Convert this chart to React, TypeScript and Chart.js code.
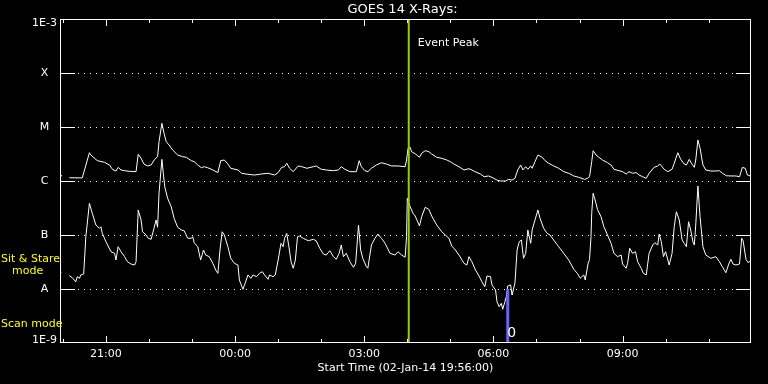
import React, { useEffect, useRef } from 'react';
import { Chart, registerables } from 'chart.js';

Chart.register(...registerables);

// Time in minutes after the start time (02-Jan-14 19:56:00)
const longTimes = [
  0, 3, 6, 13, 31, 41, 43, 52, 62, 69, 73, 78, 81, 85, 90, 97, 106, 109, 113, 117, 122, 127, 132, 136, 138, 142,
  145, 148, 152, 157, 164, 171, 176, 183, 187, 192, 197, 201, 206, 213, 220, 224, 229, 234, 238, 248, 253, 262,
  271, 281, 290, 299, 304, 309, 313, 316, 320, 325, 327, 332, 337, 344, 353, 357, 364, 371, 381, 388, 392, 397,
  404, 413, 417, 420, 425, 429, 434, 441, 448, 455, 462, 471, 481, 483, 485, 488, 490, 495, 501, 504, 509, 514,
  518, 525, 532, 539, 544, 549, 556, 563, 570, 574, 579, 586, 591, 597, 602, 609, 614, 621, 625, 630, 634, 638,
  642, 645, 649, 652, 656, 658, 662, 666, 672, 676, 681, 688, 695, 702, 709, 716, 723, 731, 735, 738, 741, 743,
  747, 751, 756, 763, 768, 772, 779, 784, 789, 793, 798, 803, 807, 812, 817, 821, 828, 833, 836, 842, 847, 853,
  856, 861, 865, 870, 873, 877, 880, 884, 886, 889, 892, 896, 900, 907, 914, 919, 923, 929, 935, 942, 947, 951,
  955, 958, 962,
];
// GOES 1-8 A flux, W/m^2
const longFlux = [
  1.25e-6, 1.25e-6, null, 1.15e-6, 1.14e-6, 3.34e-6, 3.03e-6, 2.38e-6, 2.22e-6, 1.98e-6, 1.65e-6, 1.53e-6, 1.79e-6,
  1.6e-6, 1.55e-6, 1.51e-6, 1.49e-6, 3.12e-6, 2.63e-6, 2.06e-6, 1.9e-6, 1.98e-6, 2.52e-6, 2.82e-6, 5.35e-6, 1.17e-5,
  7.64e-6, 5.35e-6, 4.64e-6, 3.75e-6, 3.03e-6, 2.82e-6, 2.75e-6, 2.38e-6, 2.28e-6, 1.98e-6, 1.76e-6, 1.84e-6, 1.76e-6,
  1.6e-6, 1.43e-6, 2.38e-6, 2.45e-6, 2.06e-6, 1.72e-6, 1.6e-6, 1.39e-6, 1.33e-6, 1.29e-6, 1.35e-6, 1.39e-6, 1.29e-6,
  1.43e-6, 1.79e-6, 1.84e-6, 2.13e-6, 1.72e-6, 1.49e-6, 1.6e-6, 1.9e-6, 1.84e-6, 1.72e-6, 1.84e-6, 1.9e-6, 1.65e-6,
  1.6e-6, 1.55e-6, 1.6e-6, 1.84e-6, 1.65e-6, 1.49e-6, 1.49e-6, 2.38e-6, 1.84e-6, 1.55e-6, 1.49e-6, 1.72e-6, 1.98e-6,
  2.18e-6, 2.06e-6, 1.9e-6, 1.9e-6, 1.84e-6, 2.45e-6, 4.03e-6, 4.21e-6, 3.49e-6, 3.2e-6, 2.75e-6, 3.26e-6, 3.64e-6,
  3.49e-6, 3.16e-6, 2.75e-6, 2.63e-6, 2.45e-6, 2.28e-6, 2.06e-6, 1.84e-6, 1.6e-6, 1.69e-6, 1.6e-6, 1.47e-6, 1.35e-6,
  1.2e-6, 1.24e-6, 1.17e-6, 1.04e-6, 1.0e-6, 1.0e-6, 1.07e-6, 1.04e-6, 1.12e-6, 1.6e-6, 1.98e-6, 1.6e-6, 1.84e-6,
  1.65e-6, 1.9e-6, 1.72e-6, 2.28e-6, 3.03e-6, 2.75e-6, 2.38e-6, 2.13e-6, 1.9e-6, 1.72e-6, 1.49e-6, 1.39e-6, 1.24e-6,
  1.17e-6, 1.07e-6, 1.12e-6, 1.2e-6, 2.28e-6, 3.64e-6, 3.03e-6, 2.75e-6, 2.45e-6, 2.18e-6, 1.98e-6, 1.65e-6, 1.55e-6,
  1.49e-6, 1.35e-6, 1.49e-6, 1.39e-6, 1.43e-6, 1.29e-6, 1.2e-6, 1.12e-6, 1.39e-6, 1.79e-6, 1.9e-6, 2.06e-6, 1.65e-6,
  1.49e-6, 1.65e-6, 2.13e-6, 3.34e-6, 2.52e-6, 2.06e-6, 1.98e-6, 2.52e-6, 2.13e-6, 1.79e-6, 2.45e-6, 5.74e-6, 4.03e-6,
  1.98e-6, 1.6e-6, 1.53e-6, 1.53e-6, 1.55e-6, 1.39e-6, 1.25e-6, 1.24e-6, 1.24e-6, 1.2e-6, 1.79e-6, 1.72e-6, 1.29e-6,
  1.24e-6,
];

const shortTimes = [
  0, 2, 6, 13, 17, 22, 24, 27, 29, 33, 36, 41, 45, 50, 55, 57, 59, 64, 71, 76, 78, 81, 85, 90, 94, 99, 104, 106, 109,
  113, 115, 120, 123, 127, 131, 134, 136, 138, 142, 144, 146, 150, 155, 159, 164, 169, 173, 178, 183, 185, 187, 192,
  196, 200, 203, 208, 213, 217, 220, 223, 226, 229, 234, 238, 243, 248, 250, 255, 258, 262, 266, 269, 274, 278, 282,
  285, 290, 292, 297, 300, 304, 308, 311, 313, 316, 319, 322, 325, 328, 331, 334, 339, 346, 353, 357, 362, 367, 371,
  376, 381, 385, 389, 392, 395, 399, 404, 409, 412, 416, 419, 422, 427, 429, 434, 439, 443, 448, 453, 460, 467, 471,
  476, 481, 483, 484, 488, 492, 495, 501, 504, 509, 514, 518, 525, 532, 537, 542, 546, 551, 556, 563, 567, 570, 574,
  579, 584, 588, 592, 595, 600, 602, 607, 609, 612, 615, 617, 620, 622, 624, 628, 630, 634, 637, 640, 643, 646, 649,
  652, 656, 658, 662, 666, 669, 674, 679, 683, 688, 695, 702, 709, 716, 721, 725, 730, 732, 736, 738, 740, 741, 743,
  747, 749, 754, 758, 763, 768, 772, 777, 782, 784, 789, 791, 794, 798, 802, 805, 810, 813, 817, 821, 826, 829, 833,
  835, 838, 841, 844, 849, 853, 856, 859, 863, 867, 870, 873, 876, 879, 882, 884, 886, 889, 892, 896, 900, 907, 914,
  919, 923, 928, 932, 935, 938, 942, 947, 950, 952, 956, 959, 962,
];
// GOES 0.5-4 A flux, W/m^2
const shortFlux = [
  2.04e-8, 2.04e-8, null, 1.76e-8, 1.62e-8, 1.36e-8, 1.69e-8, 1.58e-8, 1.82e-8, 1.9e-8, 9.3e-8, 3.86e-7, 2.52e-7,
  1.53e-7, 1.33e-7, 1.42e-7, 1.07e-7, 7.52e-8, 4.91e-8, 4.58e-8, 3.44e-8, 6.07e-8, 4.91e-8, 3.97e-8, 3.2e-8, 2.9e-8,
  2.78e-8, 3.2e-8, 2.9e-7, 1.9e-7, 1.15e-7, 1.0e-7, 8.69e-8, 8.32e-8, 1.33e-7, 1.9e-7, 1.39e-7, 5.92e-7, 2.52e-6,
  1.39e-6, 7.84e-7, 4.78e-7, 3.34e-7, 2.04e-7, 1.39e-7, 1.24e-7, 1.2e-7, 8.69e-8, 8.69e-8, 9.3e-8, 7.2e-8, 6.07e-8,
  3.44e-8, 5.28e-8, 4.26e-8, 3.97e-8, 2.99e-8, 2.25e-8, 1.95e-8, 5.28e-8, 1.15e-7, 1.0e-7, 6.07e-8, 3.7e-8, 2.99e-8,
  2.78e-8, 1.47e-8, 9.87e-9, 1.28e-8, 1.82e-8, 1.58e-8, 1.82e-8, 1.69e-8, 1.95e-8, 2.09e-8, 1.82e-8, 1.51e-8, 1.82e-8,
  1.69e-8, 1.82e-8, 3.44e-8, 7.02e-8, 6.07e-8, 8.69e-8, 1.07e-7, 6.07e-8, 3.2e-8, 2.42e-8, 3.44e-8, 9.3e-8, 9.58e-8,
  8.69e-8, 7.84e-8, 8.32e-8, 7.84e-8, 5.67e-8, 4.45e-8, 4.26e-8, 5.12e-8, 3.97e-8, 3.55e-8, 4.58e-8, 6.53e-8, 3.97e-8,
  4.58e-8, 3.2e-8, 2.52e-8, 2.99e-8, 1.53e-7, 5.28e-8, 3.7e-8, 2.59e-8, 2.42e-8, 6.53e-8, 8.69e-8, 1.04e-7, 8.69e-8,
  7.02e-8, 4.58e-8, 4.26e-8, 4.91e-8, 4.26e-8, 3.87e-8, 9.3e-8, 4.78e-7, 3.34e-7, 2.52e-7, 2.25e-7, 1.47e-7, 2.18e-7,
  3.26e-7, 2.99e-7, 2.25e-7, 1.53e-7, 1.15e-7, 1.0e-7, 8.69e-8, 6.25e-8, 5.28e-8, 4.26e-8, 2.99e-8, 2.78e-8, 3.97e-8,
  3.2e-8, 2.25e-8, 1.74e-8, 1.36e-8, 1.1e-8, 1.74e-8, 1.69e-8, 1.19e-8, 9.58e-9, 5.82e-9, 4.7e-9, 5.43e-9, 4.21e-9,
  5.82e-9, 7.2e-9, 1.14e-8, 1.19e-8, 7.74e-9, 1.28e-8, 5.28e-8, 7.52e-8, 8.07e-8, 3.7e-8, 4.58e-8, 1.24e-7, 7.02e-8,
  1.24e-7, 1.9e-7, 2.9e-7, 2.04e-7, 1.33e-7, 1.07e-7, 1.0e-7, 8.07e-8, 6.07e-8, 4.58e-8, 3.44e-8, 2.32e-8, 1.95e-8,
  1.58e-8, 1.82e-8, 1.47e-8, 2.99e-8, 3.5e-8, 9.3e-8, 2.52e-7, 5.92e-7, 3.86e-7, 2.99e-7, 2.18e-7, 1.42e-7, 1.0e-7,
  7.02e-8, 4.58e-8, 3.97e-8, 4.26e-8, 2.9e-8, 2.42e-8, 2.99e-8, 5.67e-8, 4.58e-8, 4.91e-8, 3.2e-8, 2.42e-8, 1.95e-8,
  1.82e-8, 4.58e-8, 6.53e-8, 7.2e-8, 6.53e-8, 1.04e-7, 7.52e-8, 3.97e-8, 4.91e-8, 2.78e-8, 4.58e-8, 1.42e-7, 2.7e-7,
  1.9e-7, 8.07e-8, 7.02e-8, 6.07e-8, 1.76e-7, 1.24e-7, 7.52e-8, 6.53e-8, 1.53e-7, 8.08e-7, 2.18e-7, 6.07e-8, 4.26e-8,
  3.7e-8, 3.97e-8, 3.2e-8, 2.59e-8, 2.0e-8, 2.9e-8, 3.55e-8, 2.9e-8, 2.78e-8, 2.9e-8, 8.69e-8, 7.84e-8, 3.55e-8,
  3.07e-8, 3.34e-8,
];

const xRangeMinutes = [0, 963];
const xTickMinutes = [4, 64, 124, 184, 244, 304, 364, 424, 484, 544, 604, 664, 724, 784, 844, 904];
const xMajorMinutes = [64, 244, 424, 604, 784];
const xMajorLabels = ['21:00', '00:00', '03:00', '06:00', '09:00'];

const yTickValues = [1e-9, 1e-8, 1e-7, 1e-6, 1e-5, 1e-4, 1e-3];
const yTickLabels = ['1E-9', 'A', 'B', 'C', 'M', 'X', '1E-3'];

const eventPeakMinute = 486;
const scanMarkMinute = 624;
const scanMarkFlux = [1e-8, 1e-9];

const FONT = '"DejaVu Sans", sans-serif';

const decorPlugin = {
  id: 'goesDecor',
  beforeDraw(chart: any) {
    const { ctx, width, height } = chart;
    ctx.save();
    ctx.fillStyle = '#000';
    ctx.fillRect(0, 0, width, height);
    ctx.restore();
  },
  beforeDatasetsDraw(chart: any) {
    const { ctx, chartArea } = chart;
    const y = chart.scales.y;
    const { left, right } = chartArea;
    ctx.save();
    ctx.fillStyle = '#ffffff';
    yTickValues.forEach((v, i) => {
      if (i === 0 || i === yTickValues.length - 1) return;
      const py = Math.round(y.getPixelForValue(v));
      for (let px = left + 18; px < right - 15; px += 6) {
        ctx.fillRect(px, py, 1, 1);
      }
    });
    ctx.restore();
  },
  afterDatasetsDraw(chart: any) {
    const { ctx, chartArea } = chart;
    const x = chart.scales.x;
    const y = chart.scales.y;
    const { left, right, top, bottom } = chartArea;
    ctx.save();
    ctx.strokeStyle = '#ffffff';
    ctx.fillStyle = '#ffffff';
    ctx.lineWidth = 1;
    // frame
    ctx.strokeRect(left + 0.5, top + 0.5, right - left - 1, bottom - top - 1);
    // x ticks top and bottom
    xTickMinutes.forEach((m) => {
      const px = Math.round(x.getPixelForValue(m)) + 0.5;
      const len = xMajorMinutes.includes(m) ? 7 : 4;
      ctx.beginPath();
      ctx.moveTo(px, bottom);
      ctx.lineTo(px, bottom - len);
      ctx.moveTo(px, top);
      ctx.lineTo(px, top + len);
      ctx.stroke();
    });
    // y ticks left and right + labels
    ctx.font = `11px ${FONT}`;
    ctx.textAlign = 'center';
    ctx.textBaseline = 'middle';
    yTickValues.forEach((v, i) => {
      const py = Math.round(y.getPixelForValue(v)) + 0.5;
      if (i !== 0 && i !== yTickValues.length - 1) {
        ctx.beginPath();
        ctx.moveTo(left, py);
        ctx.lineTo(left + 15, py);
        ctx.moveTo(right, py);
        ctx.lineTo(right - 15, py);
        ctx.stroke();
      }
      let ly = py;
      if (i === yTickValues.length - 1) ly = top + 4;
      if (i === 0) ly = bottom - 3;
      ctx.fillText(yTickLabels[i], 44.5, ly);
    });
    // title
    ctx.font = `13px ${FONT}`;
    ctx.fillText('GOES 14 X-Rays:', 402.5, 10);
    // event peak label
    const ex = x.getPixelForValue(eventPeakMinute);
    ctx.textAlign = 'left';
    ctx.font = `11px ${FONT}`;
    ctx.fillText('Event Peak', ex + 9, 43);
    // scan marker label
    const sx = x.getPixelForValue(scanMarkMinute);
    ctx.font = `14px ${FONT}`;
    ctx.textAlign = 'center';
    ctx.fillText('0', sx + 4, 333);
    // yellow side labels
    ctx.fillStyle = '#ffff00';
    ctx.font = `11px ${FONT}`;
    ctx.textAlign = 'left';
    ctx.fillText('Sit & Stare', 1, 259);
    ctx.fillText('mode', 12, 271);
    ctx.fillText('Scan mode', 1, 324);
    ctx.restore();
  },
};

export default function App() {
  const ref = useRef<HTMLCanvasElement | null>(null);

  useEffect(() => {
    document.body.style.margin = '0';
    document.body.style.background = '#000';
    const canvas = ref.current;
    if (!canvas) return;

    const longData = longTimes.map((t, i) => ({ x: t, y: longFlux[i] }));
    const shortData = shortTimes.map((t, i) => ({ x: t, y: shortFlux[i] }));

    const chart = new Chart(canvas, {
      type: 'line',
      data: {
        datasets: [
          {
            label: 'Scan',
            data: scanMarkFlux.map((f) => ({ x: scanMarkMinute, y: f })),
            borderColor: '#6464ff',
            borderWidth: 3,
            pointRadius: 0,
          },
          {
            label: 'Event Peak',
            data: [
              { x: eventPeakMinute, y: yTickValues[yTickValues.length - 1] },
              { x: eventPeakMinute, y: yTickValues[0] },
            ],
            borderColor: '#9acd10',
            borderWidth: 2,
            pointRadius: 0,
          },
          {
            label: '1-8 A',
            data: longData as any,
            borderColor: '#ffffff',
            borderWidth: 1,
            pointRadius: 0,
            tension: 0,
            spanGaps: false,
          },
          {
            label: '0.5-4 A',
            data: shortData as any,
            borderColor: '#ffffff',
            borderWidth: 1,
            pointRadius: 0,
            tension: 0,
            spanGaps: false,
          },
        ],
      },
      options: {
        animation: false,
        responsive: false,
        maintainAspectRatio: false,
        layout: { padding: { left: 0, right: 17, top: 19, bottom: 0 } },
        plugins: {
          legend: { display: false },
          tooltip: { enabled: false },
          title: { display: false },
        },
        scales: {
          x: {
            type: 'linear',
            min: xRangeMinutes[0],
            max: xRangeMinutes[1],
            grid: { display: false, drawTicks: false },
            border: { display: false },
            afterBuildTicks: (scale: any) => {
              scale.ticks = xTickMinutes.map((v) => ({ value: v }));
            },
            afterFit: (scale: any) => {
              scale.height = 41;
            },
            ticks: {
              autoSkip: false,
              maxRotation: 0,
              padding: 5,
              color: '#ffffff',
              font: { family: FONT, size: 11 },
              callback: (value: any) => {
                const idx = xMajorMinutes.indexOf(Number(value));
                return idx >= 0 ? xMajorLabels[idx] : '';
              },
            },
            title: {
              display: true,
              text: 'Start Time (02-Jan-14 19:56:00)',
              color: '#ffffff',
              font: { family: FONT, size: 11 },
              padding: { top: 0, bottom: 9 },
            },
          },
          y: {
            type: 'logarithmic',
            min: yTickValues[0],
            max: yTickValues[yTickValues.length - 1],
            grid: { display: false, drawTicks: false },
            border: { display: false },
            ticks: { display: false },
            afterFit: (scale: any) => {
              scale.width = 60;
            },
          },
        },
      },
      plugins: [decorPlugin],
    });

    return () => chart.destroy();
  }, []);

  return <canvas ref={ref} width={768} height={384} style={{ display: 'block', width: 768, height: 384 }} />;
}
